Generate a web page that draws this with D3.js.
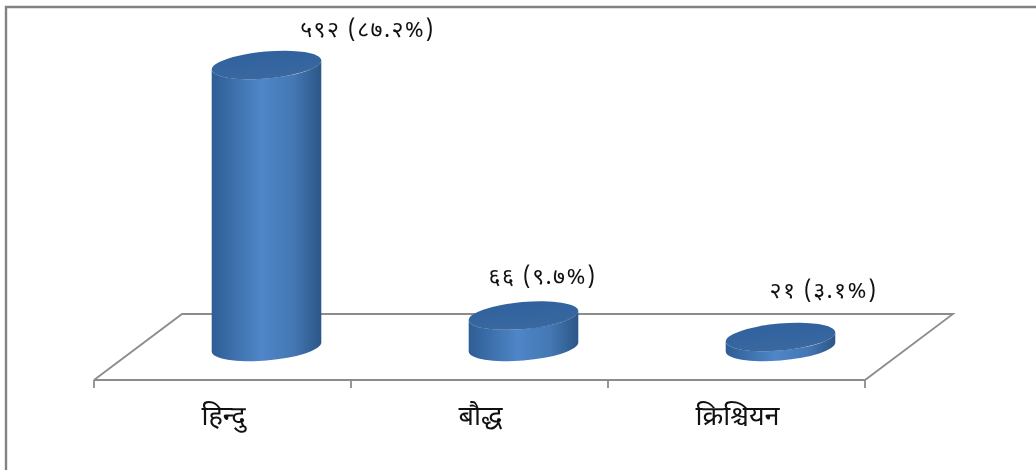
<!DOCTYPE html>
<html>
<head>
<meta charset="utf-8">
<script src="https://cdn.jsdelivr.net/npm/d3@7"></script>
<style>
html, body { margin: 0; padding: 0; background: #fff; overflow: hidden; }
svg { display: block; filter: blur(0.45px); }
text { font-family: "Noto Sans Devanagari", "Lohit Devanagari", "Noto Sans", "DejaVu Sans", sans-serif; fill: #111; }
</style>
</head>
<body>
<div id="chart"></div>
<script>
var categories = ["हिन्दु", "बौद्ध", "क्रिश्चियन"];
var values = [592, 66, 21];
var valueLabels = ["५९२ (८७.२%)", "६६ (९.७%)", "२१ (३.१%)"];

var width = 1036, height = 470;
var depthX = 88, floorFrontY = 380, floorBackY = 314, baseY = 347;
var rx = 55, ry = 13.5, tilt = -5;

var svg = d3.select("#chart").append("svg")
    .attr("width", width)
    .attr("height", height);

var defs = svg.append("defs");
var side = defs.append("linearGradient").attr("id", "side");
side.append("stop").attr("offset", "0%").attr("stop-color", "#2f5d94");
side.append("stop").attr("offset", "45%").attr("stop-color", "#4f86c8");
side.append("stop").attr("offset", "75%").attr("stop-color", "#4477b3");
side.append("stop").attr("offset", "100%").attr("stop-color", "#2c5687");

var topFill = defs.append("linearGradient").attr("id", "topFill")
    .attr("x1", 0).attr("y1", 0).attr("x2", 0).attr("y2", 1);
topFill.append("stop").attr("offset", "0%").attr("stop-color", "#30629f");
topFill.append("stop").attr("offset", "100%").attr("stop-color", "#3a689f");

// only the top and left edge of the chart frame are in the picture
svg.append("path")
    .attr("d", d3.line()([[6, height], [6, 7], [width, 7]]))
    .attr("fill", "none")
    .attr("stroke", "#828282")
    .attr("stroke-width", 2.4);

var x = d3.scaleBand()
    .domain(categories)
    .range([94, 865]);

var y = d3.scaleLinear()
    .domain([0, 592])
    .range([baseY, 65]);

// floor
var floor = svg.append("g")
    .attr("fill", "none")
    .attr("stroke", "#8c8c8c")
    .attr("stroke-width", 1.8);

floor.append("path")
    .attr("d", d3.line()([
        [x.range()[0], floorFrontY],
        [x.range()[0] + depthX, floorBackY],
        [x.range()[1] + depthX, floorBackY],
        [x.range()[1], floorFrontY],
        [x.range()[0], floorFrontY]
    ]));

var ticks = categories.map(function(c){ return x(c); }).concat([x.range()[1]]);
floor.selectAll("line")
    .data(ticks)
    .enter().append("line")
    .attr("x1", function(d){ return d; })
    .attr("x2", function(d){ return d; })
    .attr("y1", floorFrontY)
    .attr("y2", floorFrontY + 8);

// where the sides of the tilted ellipse touch it
var a = tilt * Math.PI / 180;
var tt = Math.atan2(-ry * Math.sin(a), rx * Math.cos(a));
var tanX = rx * Math.cos(tt) * Math.cos(a) - ry * Math.sin(tt) * Math.sin(a);
var tanY = rx * Math.cos(tt) * Math.sin(a) + ry * Math.sin(tt) * Math.cos(a);

function barX(d){
    return x(d) + x.bandwidth() / 2 + 44;
}

function bodyPath(cx, top){
    var p = "M" + (cx - tanX) + "," + (top - tanY);
    p += "L" + (cx - tanX) + "," + (baseY - tanY);
    p += "A" + rx + "," + ry + " " + tilt + " 0 0 " + (cx + tanX) + "," + (baseY + tanY);
    p += "L" + (cx + tanX) + "," + (top + tanY);
    p += "A" + rx + "," + ry + " " + tilt + " 0 1 " + (cx - tanX) + "," + (top - tanY);
    return p + "Z";
}

var bars = svg.selectAll("g.bar")
    .data(categories)
    .enter().append("g")
    .attr("class", "bar");

bars.append("path")
    .attr("d", function(d, i){
        return bodyPath(barX(d), y(values[i]));
    })
    .attr("fill", "url(#side)");

bars.append("ellipse")
    .attr("rx", rx)
    .attr("ry", ry)
    .attr("transform", function(d, i){
        return "translate(" + barX(d) + "," + y(values[i]) + ") rotate(" + tilt + ")";
    })
    .attr("fill", "url(#topFill)");

// value labels
svg.selectAll("text.value")
    .data(valueLabels)
    .enter().append("text")
    .attr("class", "value")
    .attr("x", function(d, i){ return barX(categories[i]) + [101, 19, 43][i]; })
    .attr("y", function(d, i){ return [37, 284, 298][i]; })
    .attr("text-anchor", "middle")
    .attr("font-size", 23)
    .attr("letter-spacing", 1.4)
    .text(function(d){ return d; });

// category labels
svg.selectAll("text.cat")
    .data(categories)
    .enter().append("text")
    .attr("class", "cat")
    .attr("x", function(d){ return x(d) + x.bandwidth() / 2 + 1; })
    .attr("y", 425)
    .attr("text-anchor", "middle")
    .attr("font-size", 27)
    .text(function(d){ return d; });
</script>
</body>
</html>
